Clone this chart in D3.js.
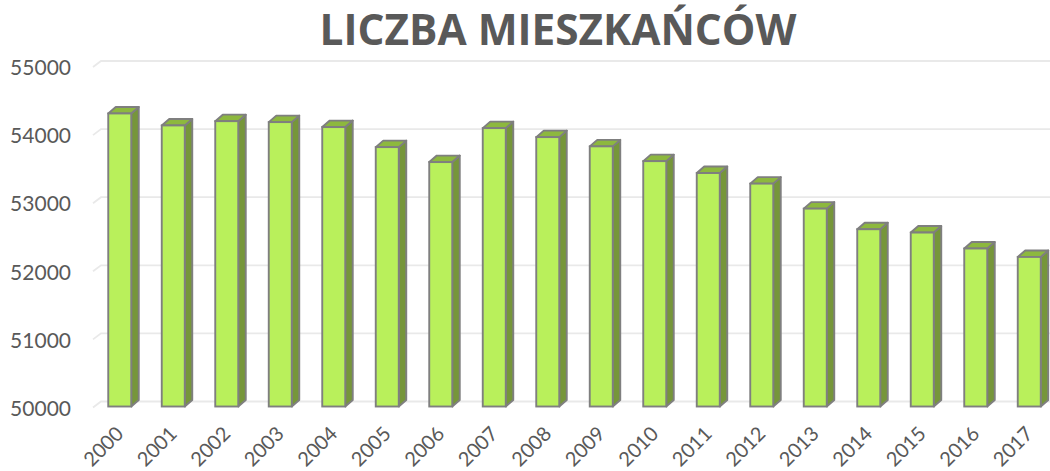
<!DOCTYPE html>
<html><head><meta charset="utf-8">
<script src="https://cdn.jsdelivr.net/npm/d3@7"></script>
<style>html,body{margin:0;padding:0;background:#fff;}svg{display:block;}</style>
</head><body>
<svg id="chart" width="1050" height="471"></svg>
<script>
const years = ["2000","2001","2002","2003","2004","2005","2006","2007","2008","2009","2010","2011","2012","2013","2014","2015","2016","2017"];
const population = [54303,54127,54190,54176,54103,53809,53589,54088,53956,53820,53603,53428,53273,52906,52603,52554,52320,52196];
const yTicks = [50000,51000,52000,53000,54000,55000];
const title = "LICZBA MIESZKAŃCÓW";

const svg = d3.select("#chart");
const W = 1050, H = 471;
const depthX = 7.5, depthY = 6.5;

const x = d3.scaleBand().domain(years).range([93, 1056]).paddingInner(0.57).paddingOuter(0.285);
const y = d3.scaleLinear().domain([50000, 55000]).range([406.5, 66]);

// gridlines (back wall)
const grid = svg.append("g");
yTicks.forEach(t => {
  const yb = y(t) - 5;
  grid.append("path")
    .attr("d", `M93,${yb + 6}L101,${yb}L${W},${yb}`)
    .attr("fill", "none").attr("stroke", "#e9e9e9").attr("stroke-width", 1.8);
});

// y axis labels
const yAxis = d3.axisLeft(y).tickValues(yTicks).tickSize(0).tickPadding(0).tickFormat(d3.format("d"));
const yg = svg.append("g").attr("transform", "translate(71,2)").call(yAxis);
yg.select(".domain").remove();
yg.selectAll("text").attr("fill", "#595959").style("font-family", "Lato, 'Liberation Sans', sans-serif").style("font-size", "21px");

// bars
const bars = svg.append("g").selectAll("g").data(years.map((yr, i) => ({yr, v: population[i]}))).join("g");
const stroke = "#7f7f7f", sw = 1.9;
bars.each(function(d) {
  const g = d3.select(this);
  const x0 = x(d.yr), bw = x.bandwidth();
  const yt = y(d.v), yb = y(50000);
  g.append("path")
    .attr("d", `M${x0 + bw},${yt}L${x0 + bw + depthX},${yt - depthY}L${x0 + bw + depthX},${yb - depthY}L${x0 + bw},${yb}Z`)
    .attr("fill", "#76963a").attr("stroke", stroke).attr("stroke-width", sw).attr("stroke-linejoin", "round");
  g.append("path")
    .attr("d", `M${x0},${yt}L${x0 + depthX},${yt - depthY}L${x0 + bw + depthX},${yt - depthY}L${x0 + bw},${yt}Z`)
    .attr("fill", "#8db83e").attr("stroke", stroke).attr("stroke-width", sw).attr("stroke-linejoin", "round");
  g.append("rect")
    .attr("x", x0).attr("y", yt).attr("width", bw).attr("height", yb - yt)
    .attr("fill", "#b9f05b").attr("stroke", stroke).attr("stroke-width", sw);
});

// x axis labels
const xAxis = d3.axisBottom(x).tickSize(0).tickPadding(0);
const xg = svg.append("g").attr("transform", "translate(0,435)").call(xAxis);
xg.select(".domain").remove();
xg.selectAll(".tick text")
  .attr("fill", "#595959")
  .style("font-family", "Lato, 'Liberation Sans', sans-serif").style("font-size", "20px")
  .attr("text-anchor", "end").attr("x", 5).attr("y", 0).attr("dy", 0)
  .attr("transform", "rotate(-45,5,0)");

// title
const tt = svg.append("text").text(title)
  .attr("x", 558).attr("y", 45).attr("text-anchor", "middle")
  .attr("fill", "#595959").style("font-family", "'Open Sans', sans-serif").style("font-weight", "bold").style("font-size", "38px");
const tw = tt.node().getComputedTextLength();
if (tw > 0) tt.style("font-size", (38 * 477 / tw).toFixed(2) + "px");
</script>
</body></html>
